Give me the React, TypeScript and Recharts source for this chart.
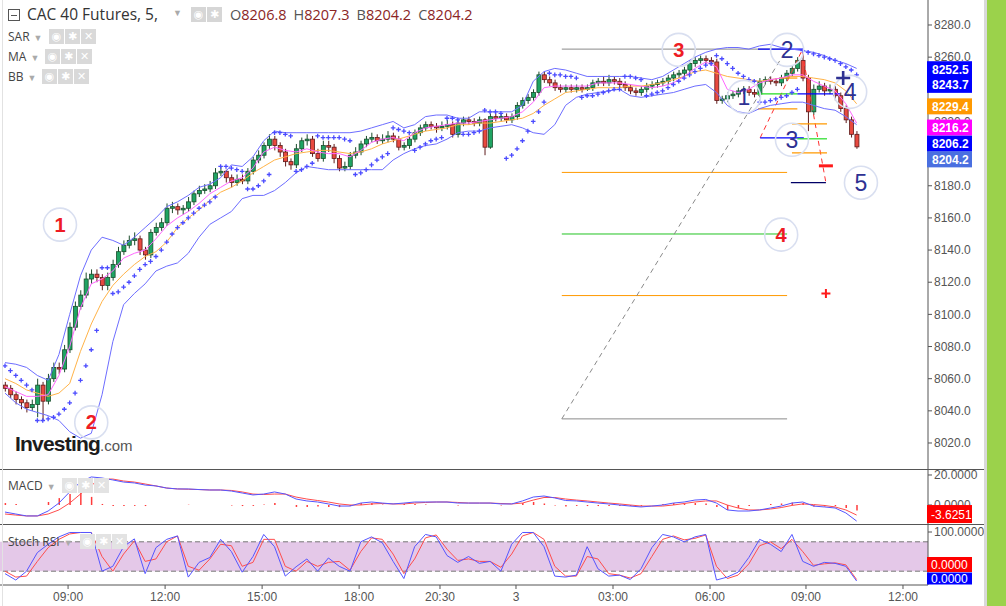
import React from 'react';
import { ComposedChart, Bar, Line, XAxis, YAxis, ReferenceLine, ReferenceDot, ReferenceArea } from 'recharts';

// ---------- price data (10-minute candles) ----------
const firstOpen = 8056;
const closes = [
  8054, 8050, 8047, 8045, 8042, 8044, 8056, 8046, 8060, 8067,
  8066, 8078, 8092, 8105, 8112, 8122, 8125, 8123, 8118, 8123,
  8131, 8139, 8143, 8146, 8147, 8140, 8137, 8151, 8154, 8157,
  8166, 8167, 8165, 8166, 8170, 8175, 8177, 8178, 8180, 8188,
  8189, 8185, 8182, 8184, 8183, 8189, 8196, 8199, 8205, 8209,
  8205, 8201, 8195, 8193, 8203, 8208, 8209, 8200, 8197, 8205,
  8204, 8197, 8191, 8192, 8199, 8201, 8206, 8209, 8210, 8208,
  8209, 8211, 8209, 8204, 8205, 8209, 8213, 8216, 8218, 8217,
  8216, 8217, 8218, 8212, 8219, 8221, 8220, 8219, 8221, 8204,
  8223, 8222, 8223, 8221, 8223, 8230, 8233, 8235, 8238, 8249,
  8246, 8244, 8241, 8240, 8241, 8240, 8241, 8240, 8241, 8244,
  8245, 8244, 8246, 8245, 8243, 8241, 8239, 8238, 8240, 8242,
  8243, 8244, 8245, 8247, 8249, 8250, 8252, 8256, 8258, 8259,
  8258, 8257, 8233, 8234, 8236, 8237, 8239, 8240, 8238, 8237,
  8245, 8246, 8245, 8244, 8247, 8250, 8253, 8258, 8247, 8226,
  8240, 8242, 8239, 8240, 8236, 8228, 8221, 8212, 8204.2,
];
const highs = [
  8058, 8056, 8052, 8049, 8047, 8047, 8060, 8058, 8063, 8070,
  8070, 8081, 8095, 8108, 8115, 8126, 8128, 8128, 8125, 8126,
  8134, 8142, 8146, 8149, 8151, 8149, 8142, 8153, 8157, 8160,
  8169, 8170, 8169, 8168, 8173, 8177, 8180, 8181, 8183, 8191,
  8192, 8190, 8187, 8187, 8187, 8191, 8198, 8202, 8207, 8212,
  8211, 8207, 8203, 8197, 8206, 8210, 8212, 8211, 8203, 8208,
  8208, 8206, 8199, 8195, 8201, 8204, 8208, 8211, 8213, 8212,
  8212, 8214, 8213, 8211, 8207, 8211, 8215, 8218, 8220, 8220,
  8219, 8220, 8221, 8220, 8221, 8223, 8223, 8222, 8223, 8222,
  8225, 8225, 8225, 8225, 8225, 8232, 8235, 8237, 8240, 8251,
  8251, 8248, 8246, 8243, 8243, 8243, 8243, 8243, 8243, 8246,
  8247, 8248, 8249, 8248, 8247, 8245, 8243, 8241, 8242, 8244,
  8245, 8246, 8247, 8249, 8251, 8252, 8254, 8258, 8260, 8261,
  8261, 8260, 8259, 8236, 8238, 8239, 8241, 8242, 8242, 8240,
  8247, 8248, 8248, 8247, 8249, 8252, 8255, 8260, 8263, 8249,
  8243, 8245, 8244, 8243, 8242, 8238, 8230, 8223, 8214,
];
const lows = [
  8052, 8048, 8044, 8041, 8039, 8040, 8036, 8034, 8044, 8058,
  8063, 8064, 8076, 8090, 8103, 8110, 8119, 8120, 8115, 8115,
  8121, 8129, 8137, 8141, 8143, 8137, 8134, 8135, 8149, 8152,
  8155, 8163, 8162, 8162, 8164, 8168, 8173, 8175, 8176, 8178,
  8186, 8182, 8179, 8180, 8181, 8181, 8187, 8194, 8197, 8203,
  8202, 8198, 8192, 8190, 8191, 8201, 8205, 8198, 8195, 8195,
  8201, 8194, 8189, 8189, 8190, 8197, 8199, 8204, 8207, 8206,
  8206, 8207, 8207, 8202, 8202, 8203, 8207, 8211, 8214, 8215,
  8213, 8214, 8215, 8210, 8210, 8217, 8218, 8217, 8217, 8199,
  8203, 8220, 8220, 8219, 8219, 8221, 8228, 8231, 8233, 8236,
  8244, 8242, 8239, 8238, 8238, 8238, 8238, 8238, 8239, 8239,
  8242, 8242, 8242, 8243, 8241, 8239, 8237, 8236, 8236, 8238,
  8240, 8241, 8242, 8243, 8245, 8247, 8248, 8250, 8254, 8256,
  8256, 8255, 8231, 8231, 8232, 8234, 8235, 8237, 8236, 8235,
  8235, 8243, 8243, 8242, 8242, 8245, 8248, 8251, 8245, 8214,
  8224, 8238, 8236, 8237, 8233, 8226, 8219, 8210, 8203,
];
const sar = [
  8068, 8065, 8062, 8059, 8056, 8053, 8034, 8034, 8035, 8036,
  8038, 8041, 8045, 8051, 8059, 8068, 8078, 8090, 8129, 8129,
  8113, 8114, 8117, 8120, 8124, 8128, 8131, 8133, 8136, 8140,
  8145, 8150, 8154, 8157, 8160, 8163, 8166, 8168, 8170, 8173,
  8192, 8192, 8191, 8190, 8189, 8178, 8178, 8180, 8183, 8187,
  8213, 8213, 8212, 8211, 8189, 8190, 8192, 8194, 8211, 8210,
  8210, 8210, 8210, 8209, 8208, 8187, 8188, 8190, 8193, 8196,
  8198, 8200, 8216, 8215, 8214, 8213, 8202, 8204, 8206, 8208,
  8209, 8210, 8222, 8222, 8221, 8212, 8212, 8213, 8214, 8227,
  8226, 8226, 8225, 8197, 8199, 8203, 8208, 8214, 8220, 8226,
  8232, 8250, 8249, 8249, 8248, 8248, 8247, 8235, 8236, 8236,
  8237, 8238, 8239, 8240, 8240, 8248, 8248, 8247, 8246, 8236,
  8237, 8238, 8239, 8241, 8243, 8245, 8247, 8249, 8251, 8253,
  8255, 8256, 8261, 8259, 8256, 8253, 8250, 8248, 8246, 8245,
  8232, 8232, 8233, 8234, 8235, 8236, 8238, 8240, 8264, 8263,
  8262, 8261, 8260, 8259, 8258, 8256, 8254, 8252, 8249,
];

// ---------- indicators (every second candle) ----------
const bbUpper = [
  8070, 8069, 8067, 8062, 8059, 8075, 8100, 8124, 8140, 8148,
  8146, 8143, 8148, 8154, 8160, 8167, 8170, 8174, 8179, 8181,
  8185, 8193, 8192, 8198, 8208, 8214, 8213, 8213, 8213, 8213,
  8213, 8213, 8213, 8214, 8216, 8218, 8220, 8216, 8218, 8223,
  8224, 8224, 8222, 8222, 8226, 8226, 8226, 8226, 8230, 8245,
  8251, 8253, 8252, 8250, 8248, 8248, 8248, 8248, 8248, 8247,
  8246, 8248, 8252, 8256, 8260, 8263, 8265, 8266, 8266, 8265,
  8267, 8268, 8266, 8265, 8264, 8263, 8261, 8258, 8256, 8253,
];
const bbLower = [
  8051, 8045, 8041, 8039, 8037, 8034, 8027, 8023, 8026, 8050,
  8083, 8106, 8113, 8119, 8127, 8130, 8132, 8138, 8148, 8156,
  8160, 8164, 8172, 8174, 8174, 8177, 8182, 8188, 8192, 8191,
  8190, 8190, 8190, 8190, 8190, 8190, 8196, 8200, 8203, 8205,
  8206, 8209, 8213, 8214, 8214, 8216, 8217, 8218, 8216, 8213,
  8212, 8218, 8230, 8235, 8237, 8238, 8239, 8240, 8236, 8235,
  8236, 8237, 8238, 8240, 8242, 8243, 8238, 8230, 8226, 8225,
  8228, 8230, 8231, 8232, 8232, 8230, 8228, 8227, 8223, 8218,
];
const maFast = [
  8055, 8052, 8049, 8049, 8050, 8062, 8080, 8104, 8119, 8122,
  8127, 8135, 8138, 8140, 8147, 8155, 8160, 8164, 8169, 8175,
  8179, 8183, 8185, 8191, 8201, 8204, 8202, 8201, 8203, 8201,
  8200, 8200, 8198, 8202, 8207, 8209, 8210, 8208, 8213, 8216,
  8217, 8218, 8219, 8219, 8220, 8221, 8222, 8223, 8226, 8232,
  8241, 8242, 8242, 8242, 8242, 8244, 8244, 8244, 8243, 8242,
  8241, 8242, 8244, 8248, 8253, 8257, 8254, 8240, 8238, 8240,
  8244, 8246, 8247, 8249, 8249, 8245, 8242, 8239, 8231, 8219,
];
const maSlow = [
  8060, 8057, 8053, 8051, 8049, 8051, 8057, 8077, 8094, 8108,
  8118, 8125, 8131, 8136, 8139, 8145, 8154, 8160, 8165, 8171,
  8176, 8179, 8183, 8188, 8192, 8196, 8198, 8200, 8201, 8202,
  8202, 8201, 8200, 8201, 8203, 8206, 8208, 8210, 8212, 8214,
  8215, 8216, 8218, 8218, 8219, 8219, 8220, 8221, 8222, 8225,
  8230, 8234, 8238, 8239, 8240, 8241, 8241, 8241, 8242, 8242,
  8243, 8244, 8246, 8248, 8251, 8252, 8250, 8248, 8247, 8246,
  8245, 8246, 8247, 8248, 8248, 8247, 8246, 8244, 8239, 8231,
];
const macdLine = [
  -4.7, -6, -7.3, -7.3, -4, 1.3, 8.7, 15.3, 18.7, 18,
  16.7, 15.3, 14.7, 13.3, 12.7, 11.3, 10.7, 10.7, 10.3, 10,
  10, 9.3, 8, 6.7, 7.3, 8.7, 7.3, 4, 2.7, 2,
  0.7, -0.7, -0.7, 1.3, 2, 1.3, 0.7, 1.3, 2, 2,
  2, 2, 1.3, 1.3, 1.3, 1.3, 0.7, 0.7, 2.7, 5.3,
  6, 4.7, 3, 2.7, 2, 1.3, 0.7, 0, -0.7, -1.3,
  -0.7, 0, 1.3, 2, 3.3, 3.7, 1.3, -3.3, -4, -4,
  -3.3, -2, -0.7, 1.3, 2, -0.7, -1.3, -2, -5.3, -10.7,
];
const signalLine = [
  -6, -6.7, -7.3, -7.3, -6, -3.3, 1.3, 7.3, 13.3, 17.3,
  17.3, 16, 15.3, 14, 12.7, 11.3, 10.7, 10.5, 10.3, 10,
  10, 9.7, 8.7, 7.3, 7, 7.3, 7.3, 5.3, 4, 3,
  2, 0.7, 0, 0, 0.7, 1, 0.7, 0.7, 1.3, 1.7,
  2, 2, 1.7, 1.3, 1.3, 1.3, 1, 0.7, 1.3, 3.3,
  5, 5, 4, 3.3, 2.7, 2, 1.3, 0.7, 0, -0.7,
  -0.7, -0.7, 0, 1, 2, 2.7, 2.7, 0, -2, -3.3,
  -3.3, -2.7, -1.7, -0.3, 0.7, 0.3, -0.3, -1.3, -3.3, -6.7,
];
const macdHist = [
  1.3, 0.7, 0, 0, 2, 4.6, 7.4, 8, 5.4, 0.7,
  -0.6, -0.7, -0.6, -0.7, 0, 0, 0, 0.2, 0, 0,
  0, -0.4, -0.7, -0.6, 0.3, 1.4, 0, -1.3, -1.3, -1,
  -1.3, -1.4, -0.7, 1.3, 1.3, 0.3, 0, 0.6, 0.7, 0.3,
  0, 0, -0.4, 0, 0, 0, -0.3, 0, 1.4, 2,
  1, -0.3, -1, -0.6, -0.7, -0.7, -0.6, -0.7, -0.7, -0.6,
  0, 0.7, 1.3, 1, 1.3, 1, -1.4, -3.3, -2, -0.7,
  0, 0.7, 1, 1.6, 1.3, -1, -1, -0.7, -2, -3.6,
];
const stochK = [
  15, 2, 20, 58, 75, 90, 99, 99, 99, 20,
  30, 70, 86, 15, 68, 85, 92, 8, 38, 48,
  85, 60, 18, 50, 95, 70, 10, 29, 45, 20,
  47, 30, 20, 80, 90, 78, 40, 5, 70, 95,
  90, 52, 38, 50, 36, 40, 20, 75, 99, 99,
  70, 10, 8, 12, 70, 25, 10, 12, 3, 25,
  68, 95, 90, 80, 90, 95, 2, 8, 18, 48,
  85, 75, 60, 95, 40, 30, 38, 36, 30, 0,
];
const stochD = [
  20, 8, 10, 40, 68, 85, 96, 99, 99, 50,
  20, 55, 82, 40, 45, 80, 92, 30, 22, 45,
  75, 72, 30, 38, 85, 85, 30, 20, 40, 30,
  38, 40, 22, 60, 88, 85, 55, 15, 45, 88,
  94, 65, 42, 45, 40, 40, 28, 55, 92, 99,
  85, 30, 10, 10, 50, 45, 15, 12, 6, 15,
  50, 85, 92, 84, 87, 94, 30, 5, 12, 35,
  72, 80, 66, 85, 60, 32, 35, 37, 33, 3,
];

// ---------- axes ----------
const timeTickSlots = [11.7, 29.7, 47.7, 65.7, 80.7, 94.8, 112.8, 130.8, 148.6, 166.6];
const timeTickLabels = ['09:00', '12:00', '15:00', '18:00', '20:30', '3', '03:00', '06:00', '09:00', '12:00'];
const priceTicks = [8020, 8040, 8060, 8080, 8100, 8120, 8140, 8160, 8180, 8200, 8220, 8240, 8260, 8280];
const priceTicksCovered = [8200, 8240];
const macdTicks = [20, 0];
const stochTicks = [100, 0];
const stochTicksCovered = [0];

// ---------- drawings ----------
const fibFrom = 103.3;
const fibTo = 145.1;
const fibLevels = [8265, 8188.3, 8150, 8111.7, 8035];
const fibColors = ['#8a8a8a', '#ff9900', '#22c322', '#ff9900', '#8a8a8a'];
const waveLines = [
  { from: 139.7, to: 148.1, price: 8265, color: '#0000ff' },
  { from: 140.1, to: 148.2, price: 8209.8, color: '#0000ff' },
  { from: 145.8, to: 152.3, price: 8181.9, color: '#000066' },
  { from: 139.5, to: 147, price: 8237.1, color: '#22dd22' },
  { from: 147, to: 154.9, price: 8237.1, color: '#0000ff' },
  { from: 147, to: 152.5, price: 8209.2, color: '#22dd22' },
  { from: 143.8, to: 147, price: 8247, color: '#ff9900' },
  { from: 139.7, to: 147, price: 8227.8, color: '#ff9900' },
  { from: 146, to: 152.5, price: 8218.5, color: '#ff9900' },
  { from: 146, to: 152.5, price: 8200.5, color: '#ff9900' },
];
const dashedLines = [
  { a: [103.3, 8035], b: [144.5, 8262], color: '#8a8a8a' },
  { a: [140.1, 8209.8], b: [147.9, 8264.5], color: '#ff3030' },
  { a: [147.9, 8263], b: [152.3, 8181.9], color: '#ff3030' },
];
const RED = '#ee1c24';
const NAVY = '#2e3192';
const waveLabels = [
  { k: 10.2, p: 8155.8, text: '1', color: RED, bold: true },
  { k: 16, p: 8032.8, text: '2', color: RED, bold: true },
  { k: 125, p: 8264.5, text: '3', color: RED, bold: true },
  { k: 144, p: 8149.6, text: '4', color: RED, bold: true },
  { k: 137.1, p: 8235.3, text: '1', color: NAVY, bold: false },
  { k: 145.1, p: 8264.5, text: '2', color: NAVY, bold: false },
  { k: 146, p: 8208.6, text: '3', color: NAVY, bold: false },
  { k: 156.8, p: 8238.4, text: '4', color: NAVY, bold: false },
  { k: 158.8, p: 8181.9, text: '5', color: NAVY, bold: false },
];
const priceTags = [
  { value: 8252.5, color: '#0000ff', dy: 0 },
  { value: 8243.7, color: '#0000ff', dy: 1.5 },
  { value: 8229.4, color: '#ff9900', dy: 0 },
  { value: 8216.2, color: '#ff00ff', dy: 0 },
  { value: 8206.2, color: '#0000ff', dy: 0 },
  { value: 8204.2, color: '#4a6fe0', dy: 12.5 },
];

const X_DOMAIN = [-0.93, 171.24];
const PRICE_DOMAIN = [8003.2, 8295.55];
const MACD_DOMAIN = [-13.33, 23.33];
const STOCH_DOMAIN = [-8.16, 114.29];

const candleData = closes.map((c, i) => ({
  k: i,
  o: i === 0 ? firstOpen : closes[i - 1],
  c,
  h: highs[i],
  l: lows[i],
  range: [lows[i], highs[i]],
  sar: sar[i],
}));
const indicatorData = bbUpper.map((u, j) => ({
  k: j * 2,
  bbU: u,
  bbL: bbLower[j],
  maF: maFast[j],
  maS: maSlow[j],
}));
const macdData = macdLine.map((v, j) => ({ k: j * 2, macd: v, signal: signalLine[j], hist: macdHist[j] }));
const stochData = stochK.map((v, j) => ({ k: j * 2, sk: v, sd: stochD[j] }));

const AXIS = '#555';
const FONT = '"Liberation Sans", Arial, sans-serif';
const tickStyle = { fontSize: 12, fill: '#555', fontFamily: FONT };

const makeAxisTick = (digits: number, covered: number[]) => (props: any) => {
  const { x, y, payload } = props;
  const v = payload && payload.value;
  if (v == null || covered.indexOf(v) >= 0) return <g />;
  return (
    <text x={x} y={y} dy="0.355em" textAnchor="start" fontSize={12} fill="#555" fontFamily={FONT}>
      {Number(v).toFixed(digits)}
    </text>
  );
};

const Candle = (props: any) => {
  const { x, y, width, height, payload } = props;
  if (payload == null || x == null || y == null) return <g />;
  const top = Math.min(y, y + height);
  const bot = Math.max(y, y + height);
  const { o, c, h, l } = payload;
  const span = h - l || 1;
  const py = (v: number) => top + ((h - v) / span) * (bot - top);
  const up = c >= o;
  const cx = x + width / 2;
  const bt = py(Math.max(o, c));
  const bb = py(Math.min(o, c));
  const edge = up ? '#1b4d2c' : '#5e1b1b';
  return (
    <g>
      <line x1={cx} x2={cx} y1={top} y2={bot} stroke={edge} strokeWidth={1} />
      <rect x={x} y={bt} width={width} height={Math.max(1, bb - bt)} fill={up ? '#1fa463' : '#e8493f'} stroke={edge} strokeWidth={0.8} />
    </g>
  );
};

const SarDot = (p: any) => {
  const key = 'sar' + p.index;
  if (p.cx == null || p.cy == null) return <g key={key} />;
  return (
    <path key={key} d={`M${p.cx - 2.3},${p.cy}H${p.cx + 2.3}M${p.cx},${p.cy - 2.3}V${p.cy + 2.3}`} stroke="#4b4bff" strokeWidth={1.3} />
  );
};

const makeTag = (text: string, color: string, dy: number, h: number, bold: boolean) => (props: any) => {
  const vb = props.viewBox || {};
  const x = (vb.x || 0) + (vb.width || 0);
  const y = (vb.y || 0) + dy;
  return (
    <g>
      <rect x={x - 1} y={y - h / 2} width={45} height={h} fill={color} />
      <text x={x + (bold ? 4 : 3)} y={y + 4.5} fill="#fff" fontSize={12} fontWeight={bold ? 'bold' : 'normal'} fontFamily={FONT}>
        {text}
      </text>
    </g>
  );
};

const makeCircle = (text: string, color: string, bold: boolean) => (p: any) => {
  if (p.cx == null) return <g />;
  return (
    <g>
      <circle cx={p.cx} cy={p.cy} r={16.5} fill="none" stroke="#d9dff0" strokeWidth={1.6} />
      <text
        x={p.cx}
        y={p.cy + (bold ? 7 : 8)}
        textAnchor="middle"
        fill={color}
        fontSize={bold ? 20 : 23}
        fontWeight={bold ? 'bold' : 'normal'}
        fontFamily={FONT}
      >
        {text}
      </text>
    </g>
  );
};

const NavyPlus = (p: any) =>
  p.cx == null ? <g /> : (
    <path d={`M${p.cx - 7},${p.cy}H${p.cx + 7}M${p.cx},${p.cy - 7}V${p.cy + 7}`} stroke={NAVY} strokeWidth={2.6} />
  );
const RedMinus = (p: any) =>
  p.cx == null ? <g /> : <rect x={p.cx - 7} y={p.cy - 1.5} width={14} height={3} fill="#ff1a1a" />;
const RedPlus = (p: any) =>
  p.cx == null ? <g /> : (
    <path d={`M${p.cx - 4.5},${p.cy}H${p.cx + 4.5}M${p.cx},${p.cy - 4.5}V${p.cy + 4.5}`} stroke="#ff1a1a" strokeWidth={2} />
  );

function MainChart() {
  return (
    <ComposedChart width={1006} height={470} data={candleData} margin={{ top: 0, right: 0, left: 0, bottom: 0 }}>
      <XAxis dataKey="k" type="number" domain={X_DOMAIN} allowDataOverflow hide />
      <YAxis
        orientation="right"
        type="number"
        domain={PRICE_DOMAIN}
        allowDataOverflow
        ticks={priceTicks}
        interval={0}
        width={78}
        tickSize={4}
        tickMargin={2}
        tick={makeAxisTick(1, priceTicksCovered)}
        axisLine={{ stroke: AXIS }}
        tickLine={{ stroke: AXIS }}
      />
      {fibLevels.map((p, i) => (
        <ReferenceLine key={'fib' + i} segment={[{ x: fibFrom, y: p }, { x: fibTo, y: p }]} stroke={fibColors[i]} strokeWidth={1} />
      ))}
      {dashedLines.map((d, i) => (
        <ReferenceLine
          key={'dl' + i}
          segment={[{ x: d.a[0], y: d.a[1] }, { x: d.b[0], y: d.b[1] }]}
          stroke={d.color}
          strokeDasharray="5 4"
          strokeWidth={1}
        />
      ))}
      {waveLines.map((w, i) => (
        <ReferenceLine key={'wl' + i} segment={[{ x: w.from, y: w.price }, { x: w.to, y: w.price }]} stroke={w.color} strokeWidth={1.2} />
      ))}
      <Line data={indicatorData} dataKey="bbU" stroke="#6d6dff" strokeWidth={1} dot={false} activeDot={false} isAnimationActive={false} />
      <Line data={indicatorData} dataKey="bbL" stroke="#6d6dff" strokeWidth={1} dot={false} activeDot={false} isAnimationActive={false} />
      <Line data={indicatorData} dataKey="maS" stroke="#ffb347" strokeWidth={1} dot={false} activeDot={false} isAnimationActive={false} />
      <Line data={indicatorData} dataKey="maF" stroke="#ff66ff" strokeWidth={1} dot={false} activeDot={false} isAnimationActive={false} />
      <Line dataKey="sar" stroke="none" dot={SarDot} activeDot={false} isAnimationActive={false} />
      <Bar dataKey="range" barSize={4} shape={Candle} isAnimationActive={false} />
      {waveLabels.map((w, i) => (
        <ReferenceDot key={'wv' + i} x={w.k} y={w.p} r={16} shape={makeCircle(w.text, w.color, w.bold)} />
      ))}
      <ReferenceDot x={155.5} y={8247} r={7} shape={NavyPlus} />
      <ReferenceDot x={152.3} y={8192.4} r={7} shape={RedMinus} />
      <ReferenceDot x={152.3} y={8113} r={5} shape={RedPlus} />
    </ComposedChart>
  );
}

// Overlay so that value tags sit above the axis tick labels
function MainTags() {
  return (
    <ComposedChart width={1006} height={470} data={candleData} margin={{ top: 0, right: 78, left: 0, bottom: 0 }}>
      <XAxis dataKey="k" type="number" domain={X_DOMAIN} allowDataOverflow hide />
      <YAxis type="number" domain={PRICE_DOMAIN} allowDataOverflow hide />
      {priceTags.map((t, i) => (
        <ReferenceLine key={'tag' + i} y={t.value} stroke="none" label={makeTag(t.value.toFixed(1), t.color, t.dy, 16, true)} />
      ))}
    </ComposedChart>
  );
}

function MacdChart() {
  return (
    <ComposedChart width={1006} height={65} data={macdData} margin={{ top: 10, right: 0, left: 0, bottom: 0 }}>
      <XAxis dataKey="k" type="number" domain={X_DOMAIN} allowDataOverflow hide />
      <YAxis
        orientation="right"
        type="number"
        domain={MACD_DOMAIN}
        allowDataOverflow
        ticks={macdTicks}
        interval={0}
        width={78}
        tickSize={4}
        tickMargin={2}
        tick={makeAxisTick(4, [])}
        axisLine={{ stroke: AXIS }}
        tickLine={{ stroke: AXIS }}
      />
      <Bar dataKey="hist" barSize={1.5} fill="#ff3b3b" isAnimationActive={false} />
      <Line dataKey="signal" stroke="#ff4d4d" strokeWidth={1} dot={false} activeDot={false} isAnimationActive={false} />
      <Line dataKey="macd" stroke="#5555ff" strokeWidth={1} dot={false} activeDot={false} isAnimationActive={false} />
    </ComposedChart>
  );
}

function MacdTags() {
  return (
    <ComposedChart width={1006} height={65} data={macdData} margin={{ top: 10, right: 78, left: 0, bottom: 0 }}>
      <XAxis dataKey="k" type="number" domain={X_DOMAIN} allowDataOverflow hide />
      <YAxis type="number" domain={MACD_DOMAIN} allowDataOverflow hide />
      <ReferenceLine y={-3.6251} stroke="none" label={makeTag('-3.6251', '#ff0000', 3.6, 18, false)} />
    </ComposedChart>
  );
}

function StochChart() {
  return (
    <ComposedChart width={1006} height={81} data={stochData} margin={{ top: 0, right: 0, left: 0, bottom: 0 }}>
      <XAxis
        dataKey="k"
        type="number"
        domain={X_DOMAIN}
        allowDataOverflow
        ticks={timeTickSlots}
        interval={0}
        height={21}
        tickSize={4}
        tickMargin={3}
        tick={tickStyle}
        tickFormatter={(_v: number, i: number) => timeTickLabels[i]}
        axisLine={{ stroke: AXIS }}
        tickLine={{ stroke: AXIS }}
      />
      <YAxis
        orientation="right"
        type="number"
        domain={STOCH_DOMAIN}
        allowDataOverflow
        ticks={stochTicks}
        interval={0}
        width={78}
        tickSize={4}
        tickMargin={2}
        tick={makeAxisTick(4, stochTicksCovered)}
        axisLine={{ stroke: AXIS }}
        tickLine={{ stroke: AXIS }}
      />
      <ReferenceArea y1={20} y2={80} fill="#e4c8e8" fillOpacity={1} stroke="none" />
      <ReferenceLine y={80} stroke="#777" strokeDasharray="5 3" />
      <ReferenceLine y={20} stroke="#777" strokeDasharray="5 3" />
      <Line dataKey="sd" stroke="#ff4d4d" strokeWidth={1} dot={false} activeDot={false} isAnimationActive={false} />
      <Line dataKey="sk" stroke="#5555ff" strokeWidth={1} dot={false} activeDot={false} isAnimationActive={false} />
    </ComposedChart>
  );
}

function StochTags() {
  return (
    <ComposedChart width={1006} height={81} data={stochData} margin={{ top: 0, right: 78, left: 0, bottom: 21 }}>
      <XAxis dataKey="k" type="number" domain={X_DOMAIN} allowDataOverflow hide />
      <YAxis type="number" domain={STOCH_DOMAIN} allowDataOverflow hide />
      <ReferenceLine y={0} stroke="none" label={makeTag('0.0000', '#ff0000', -16.5, 15, false)} />
      <ReferenceLine y={0} stroke="none" label={makeTag('0.0000', '#0000ff', -2.5, 12, false)} />
    </ComposedChart>
  );
}

const UI_FONT = '"Open Sans", "Noto Sans", sans-serif';

function IconBoxes({ left, top, glyphs, bg }: { left: number; top: number; glyphs: string[]; bg: string }) {
  return (
    <div style={{ position: 'absolute', left, top, display: 'flex', gap: 1 }}>
      {glyphs.map((g, i) => (
        <div
          key={i}
          style={{
            width: 15,
            height: 15,
            background: bg,
            color: '#fff',
            fontSize: 11,
            lineHeight: '15px',
            textAlign: 'center',
            fontFamily: '"DejaVu Sans", sans-serif',
            fontWeight: 'bold',
          }}
        >
          {g}
        </div>
      ))}
    </div>
  );
}

function SubLabel({ left, top, text, boxLeft, bg }: { left: number; top: number; text: string; boxLeft: number; bg: string }) {
  return (
    <>
      <div style={{ position: 'absolute', left, top, fontSize: 12, color: '#444', fontFamily: UI_FONT, lineHeight: '15px', whiteSpace: 'nowrap' }}>
        {text}
        <span style={{ color: '#aaa', fontSize: 9, marginLeft: 4 }}>▼</span>
      </div>
      <IconBoxes left={boxLeft} top={top} glyphs={['◉', '✱', '✕']} bg={bg} />
    </>
  );
}

const layer = (top: number): React.CSSProperties => ({ position: 'absolute', left: 0, top });

export default function App() {
  const ohlc = [
    ['O', '8206.8'],
    ['H', '8207.3'],
    ['B', '8204.2'],
    ['C', '8204.2'],
  ];
  return (
    <div
      style={{
        position: 'fixed',
        left: 0,
        top: 0,
        width: 1006,
        height: 606,
        background: '#fff',
        overflow: 'hidden',
        fontFamily: FONT,
      }}
    >
      <div style={layer(0)}>
        <MainChart />
      </div>
      <div style={layer(460)}>
        <MacdChart />
      </div>
      <div style={layer(525)}>
        <StochChart />
      </div>

      {/* panel separators and frame */}
      <div style={{ position: 'absolute', left: 0, top: 469, width: 984, height: 1, background: '#555' }} />
      <div style={{ position: 'absolute', left: 0, top: 524, width: 984, height: 1, background: '#555' }} />
      <div style={{ position: 'absolute', left: 2, top: 0, width: 1, height: 606, background: '#e2e2e2' }} />
      <div style={{ position: 'absolute', left: 984, top: 0, width: 3, height: 606, background: '#d9d9d9' }} />
      <div style={{ position: 'absolute', left: 987, top: 0, width: 19, height: 606, background: '#9bd24b' }} />

      {/* value tags above tick labels */}
      <div style={layer(0)}>
        <MainTags />
      </div>
      <div style={layer(460)}>
        <MacdTags />
      </div>
      <div style={layer(525)}>
        <StochTags />
      </div>

      {/* header */}
      <div style={{ position: 'absolute', left: 8, top: 9, width: 10, height: 10, border: '1px solid #555' }}>
        <div style={{ position: 'absolute', left: 2, top: 4.5, width: 6, height: 1, background: '#555' }} />
      </div>
      <div style={{ position: 'absolute', left: 27, top: 3, fontSize: 15.5, color: '#333', fontFamily: UI_FONT, lineHeight: '22px', whiteSpace: 'nowrap' }}>
        CAC 40 Futures, 5,
      </div>
      <div style={{ position: 'absolute', left: 173, top: 8, fontSize: 9, color: '#aaa' }}>▼</div>
      <IconBoxes left={191} top={7} glyphs={['◉', '✱']} bg="#d6d6d6" />
      <div style={{ position: 'absolute', left: 230, top: 4, display: 'flex', gap: 7, fontSize: 14.5, fontFamily: UI_FONT, lineHeight: '22px', whiteSpace: 'nowrap' }}>
        {ohlc.map(([l, v]) => (
          <span key={l}>
            <span style={{ color: '#555' }}>{l}</span>
            <span style={{ color: '#8b2525' }}>{v}</span>
          </span>
        ))}
      </div>
      <SubLabel left={8} top={29} text="SAR" boxLeft={49} bg="#d9d9d9" />
      <SubLabel left={8} top={49} text="MA" boxLeft={45} bg="#d9d9d9" />
      <SubLabel left={8} top={69} text="BB" boxLeft={42} bg="#d9d9d9" />
      <SubLabel left={8} top={478} text="MACD" boxLeft={62} bg="#e3e3e3" />
      <SubLabel left={8} top={534} text="Stoch RSI" boxLeft={80} bg="#e3e3e3" />

      {/* logo */}
      <div style={{ position: 'absolute', left: 15, top: 432, whiteSpace: 'nowrap', fontFamily: FONT }}>
        <span style={{ fontSize: 21, fontWeight: 'bold', color: '#1c1c1c', letterSpacing: -0.8 }}>Investing</span>
        <span style={{ fontSize: 15, color: '#555' }}>.com</span>
      </div>
    </div>
  );
}
